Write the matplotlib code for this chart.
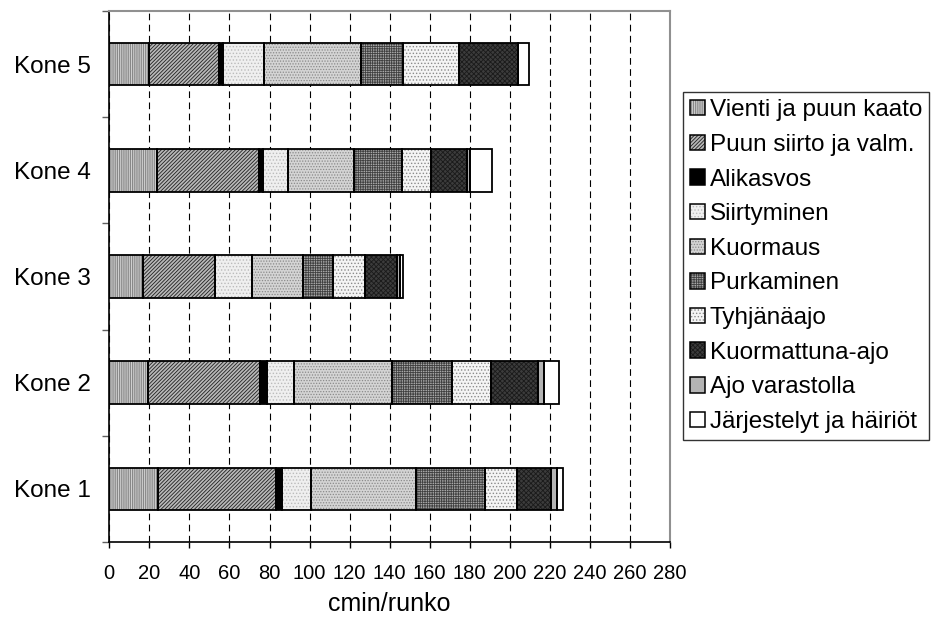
import numpy as np
import matplotlib
matplotlib.use("Agg")
import matplotlib.pyplot as plt
from matplotlib.patches import Patch
from matplotlib.legend_handler import HandlerTuple

plt.rcParams["font.family"] = ["Liberation Sans", "DejaVu Sans"]
plt.rcParams["hatch.linewidth"] = 0.6

koneet = ["Kone 1", "Kone 2", "Kone 3", "Kone 4", "Kone 5"]

vienti = [24.5, 19.5, 17, 24, 20]
puun_siirto = [58.5, 56, 36, 51, 35]
alikasvos = [3, 3.2, 0, 1.7, 1.7]
siirtyminen = [14.5, 13.3, 18.5, 12.5, 20.7]
kuormaus = [52.5, 49.2, 25, 33, 48.3]
purkaminen = [34.5, 30, 15, 24, 20.8]
tyhjanaajo = [16, 19.5, 16, 14.5, 28]
kuormattuna = [17, 23.5, 16.3, 18, 29.5]
ajo_varastolla = [3, 2.8, 1.3, 1.3, 0]
jarjestelyt = [3, 7.7, 1.7, 11.2, 5.5]

labels = ["Vienti ja puun kaato", "Puun siirto ja valm.", "Alikasvos",
          "Siirtyminen", "Kuormaus", "Purkaminen", "Tyhjänäajo",
          "Kuormattuna-ajo", "Ajo varastolla", "Järjestelyt ja häiriöt"]
series = [vienti, puun_siirto, alikasvos, siirtyminen, kuormaus, purkaminen,
          tyhjanaajo, kuormattuna, ajo_varastolla, jarjestelyt]

# (facecolor, hatch colour, hatch)
styles = [
    ("#d0d0d0", "#7a7a7a", "|||||||||"),
    ("#b8b8b8", "#202020", "/////////"),
    ("#000000", "#000000", None),
    ("#efefef", "#bbbbbb", "....."),
    ("#d4d4d4", "#8a8a8a", "......"),
    ("#a8a8a8", "#404040", "+++++++"),
    ("#f4f4f4", "#8a8a8a", "....."),
    ("#3c3c3c", "#1a1a1a", "xxxxxxx"),
    ("#b4b4b4", "#b4b4b4", None),
    ("#ffffff", "#ffffff", None),
]

fig = plt.figure(figsize=(9.47, 6.18), dpi=100)
ax = fig.add_axes([109.3 / 947, 1 - 542 / 618, (670 - 109.3) / 947, (542 - 11) / 618])

y = np.arange(len(koneet))
left = np.zeros(len(koneet))
handles = []
for vals, lab, (fc, hc, hatch) in zip(series, labels, styles):
    vals = np.array(vals, dtype=float)
    ax.barh(y, vals, left=left, height=0.4, color=fc, edgecolor=hc,
            hatch=hatch, linewidth=0, zorder=2)
    ax.barh(y, vals, left=left, height=0.4, fill=False, edgecolor="black",
            linewidth=1.3, zorder=3)
    left += vals
    h1 = Patch(facecolor=fc, edgecolor=hc, hatch=hatch, linewidth=0)
    h2 = Patch(fill=False, edgecolor="black", linewidth=1.1)
    handles.append((h1, h2))

ax.set_xlim(0, 280)
ax.set_ylim(-0.5, 4.5)
ax.set_xticks(np.arange(0, 281, 20))
ax.set_yticks(y)
ax.set_yticklabels(koneet)
ax.set_yticks(np.arange(-0.5, 4.6, 1), minor=True)
ax.tick_params(axis="y", which="major", length=0, pad=13, labelsize=17.5)
ax.tick_params(axis="y", which="minor", length=5, width=1, color="#606060", direction="out")
ax.tick_params(axis="x", length=4, width=1, pad=12, labelsize=14.5, direction="out")

ax.grid(axis="x", color="black", linestyle=(0, (6, 4)), linewidth=0.8)
ax.set_axisbelow(True)

for s in ["top", "right"]:
    ax.spines[s].set_color("#909090")
    ax.spines[s].set_linewidth(1.5)
for s in ["left", "bottom"]:
    ax.spines[s].set_color("black")
    ax.spines[s].set_linewidth(1.2)

ax.set_xlabel("cmin/runko", fontsize=18, labelpad=6)

leg = fig.legend(handles, labels, handler_map={tuple: HandlerTuple()},
                 loc="upper left", bbox_to_anchor=(683 / 947, 1 - 92 / 618),
                 fontsize=17.5, frameon=True, fancybox=False, borderaxespad=0,
                 handlelength=0.6, handleheight=0.6, handletextpad=0.2,
                 labelspacing=0.52, borderpad=0.3)
leg.get_frame().set_edgecolor("black")
leg.get_frame().set_linewidth(1.0)

fig.savefig("out.png", dpi=100)
